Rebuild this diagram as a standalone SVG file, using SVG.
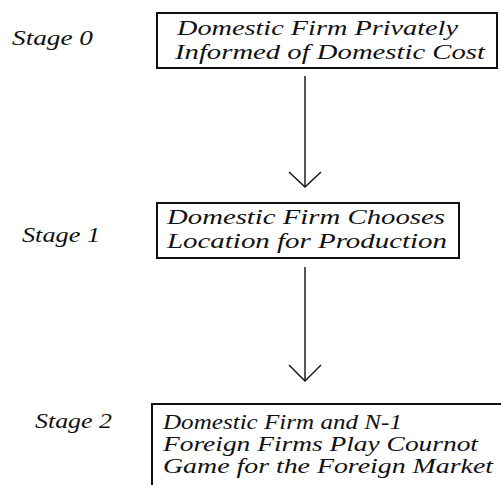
<svg xmlns="http://www.w3.org/2000/svg" width="501" height="485" viewBox="0 0 501 485">
<style>
.box{fill:#fff;stroke:#111;stroke-width:2}
.t{font-family:"Liberation Serif","DejaVu Serif","Times New Roman",Times,serif;font-style:italic;font-size:21px;fill:#111}
.s{font-size:20px}
.c{fill:none;stroke:#111;stroke-width:1.4}
</style>
<rect width="501" height="485" fill="#fff"/>
<g id="labels">
<text class="t" x="12" y="45" textLength="81" lengthAdjust="spacingAndGlyphs">Stage 0</text>
<text class="t" x="22" y="242" textLength="78" lengthAdjust="spacingAndGlyphs">Stage 1</text>
<text class="t" x="35" y="428" textLength="77" lengthAdjust="spacingAndGlyphs">Stage 2</text>
</g>
<g id="stage0">
<rect class="box" x="157" y="13" width="340" height="55"/>
<text class="t" x="177" y="35" textLength="281" lengthAdjust="spacingAndGlyphs">Domestic Firm Privately</text>
<text class="t" x="175" y="59" textLength="310" lengthAdjust="spacingAndGlyphs">Informed of Domestic Cost</text>
</g>
<g id="stage1">
<rect class="box" x="157" y="203" width="302" height="55"/>
<text class="t" x="167" y="224" textLength="278" lengthAdjust="spacingAndGlyphs">Domestic Firm Chooses</text>
<text class="t" x="167" y="248" textLength="280" lengthAdjust="spacingAndGlyphs">Location for Production</text>
</g>
<g id="stage2">
<rect class="box" x="152" y="404" width="380" height="100"/>
<text class="t s" x="163" y="429" textLength="239" lengthAdjust="spacingAndGlyphs">Domestic Firm and N-1</text>
<text class="t s" x="163" y="451" textLength="315" lengthAdjust="spacingAndGlyphs">Foreign Firms Play Cournot</text>
<text class="t s" x="163" y="473" textLength="330" lengthAdjust="spacingAndGlyphs">Game for the Foreign Market</text>
</g>
<g id="connectors">
<line class="c" x1="305" y1="76" x2="305" y2="187"/>
<polyline class="c" points="289,172 305,187 321,172"/>
<line class="c" x1="305" y1="267" x2="305" y2="381"/>
<polyline class="c" points="289,365 305,381 321,365"/>
</g>
</svg>
